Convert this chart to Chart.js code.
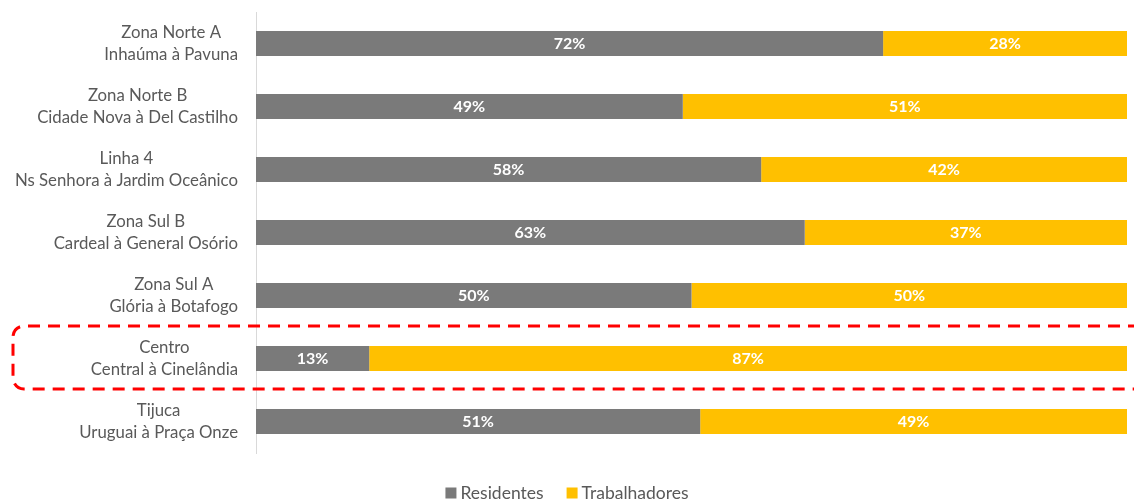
<!DOCTYPE html>
<html><head><meta charset="utf-8">
<script src="https://cdn.jsdelivr.net/npm/chart.js@4.4.1/dist/chart.umd.min.js"></script>
<style>html,body{margin:0;padding:0;background:#fff}#c{display:block}</style>
</head><body>
<canvas id="c" width="1134" height="502"></canvas>
<script>
const categories = [
  ["Zona Norte A","Inhaúma à Pavuna"],
  ["Zona Norte B","Cidade Nova à Del Castilho"],
  ["Linha 4","Ns Senhora à Jardim Oceânico"],
  ["Zona Sul B","Cardeal à General Osório"],
  ["Zona Sul A","Glória à Botafogo"],
  ["Centro","Central à Cinelândia"],
  ["Tijuca","Uruguai à Praça Onze"]
];
const seriesNames = ["Residentes","Trabalhadores"];
const residentes = [72,49,58,63,50,13,51];
const trabalhadores = [28,51,42,37,50,87,49];
const highlightIndex = 5;
const FONT = "Lato";
const COLORS = ['#7a7a7a','#ffc000'];

const labelsPlugin = {
  id:'customLabels',
  afterDraw(chart){
    const ctx = chart.ctx, y = chart.scales.y;
    ctx.save();
    // category labels
    ctx.font = `16.8px ${FONT}`;
    ctx.fillStyle = '#595959';
    ctx.textAlign = 'center';
    ctx.textBaseline = 'middle';
    categories.forEach((lines,i)=>{
      const cy = y.getPixelForValue(i);
      const w = Math.max(...lines.map(l=>ctx.measureText(l).width));
      const cx = 238 - w/2;
      ctx.fillText(lines[0], cx, cy-11);
      ctx.fillText(lines[1], cx, cy+11);
    });
    // data labels
    ctx.font = `bold 16px ${FONT}`;
    ctx.fillStyle = '#ffffff';
    chart.data.datasets.forEach((ds,di)=>{
      const meta = chart.getDatasetMeta(di);
      meta.data.forEach((bar,i)=>{
        const cx = (bar.x + bar.base)/2;
        ctx.fillText(ds.data[i]+'%', cx, bar.y+0.5);
      });
    });
    // legend
    ctx.font = `17.5px ${FONT}`;
    ctx.textAlign = 'left';
    const box = 11, gapText = 4, gapItem = 23;
    const widths = seriesNames.map(n=>box+gapText+ctx.measureText(n).width);
    const total = widths.reduce((a,b)=>a+b,0) + gapItem*(seriesNames.length-1);
    let lx = chart.width/2 - total/2;
    const ly = 493;
    seriesNames.forEach((n,i)=>{
      ctx.fillStyle = COLORS[i];
      ctx.fillRect(lx, ly-box/2, box, box);
      ctx.fillStyle = '#595959';
      ctx.fillText(n, lx+box+gapText, ly+0.5);
      lx += widths[i] + gapItem;
    });
    // highlight box
    const cy = y.getPixelForValue(highlightIndex);
    const top = cy-32.5, bot = cy+30.5, left = 13, right = 1160, r = 11;
    ctx.strokeStyle = '#ff0000';
    ctx.lineWidth = 3;
    ctx.setLineDash([12,8]);
    ctx.beginPath();
    ctx.moveTo(right, top);
    ctx.lineTo(left+r, top);
    ctx.arcTo(left, top, left, top+r, r);
    ctx.lineTo(left, bot-r);
    ctx.arcTo(left, bot, left+r, bot, r);
    ctx.lineTo(right, bot);
    ctx.stroke();
    ctx.restore();
  }
};

new Chart(document.getElementById('c'), {
  type:'bar',
  data:{
    labels: categories,
    datasets:[
      {label:seriesNames[0], data:residentes, backgroundColor:COLORS[0], borderWidth:0},
      {label:seriesNames[1], data:trabalhadores, backgroundColor:COLORS[1], borderWidth:0}
    ]
  },
  options:{
    indexAxis:'y',
    responsive:false,
    animation:false,
    layout:{padding:{top:12,right:7,left:0,bottom:49}},
    scales:{
      x:{stacked:true, min:0, max:100, display:false},
      y:{stacked:true, grid:{display:false}, ticks:{display:false},
         border:{color:'#d9d9d9', width:1},
         afterFit(s){ s.width = 256; }}
    },
    datasets:{bar:{categoryPercentage:1, barPercentage:0.4}},
    plugins:{
      legend:{display:false},
      tooltip:{enabled:false}
    }
  },
  plugins:[labelsPlugin]
});
</script>
</body></html>
